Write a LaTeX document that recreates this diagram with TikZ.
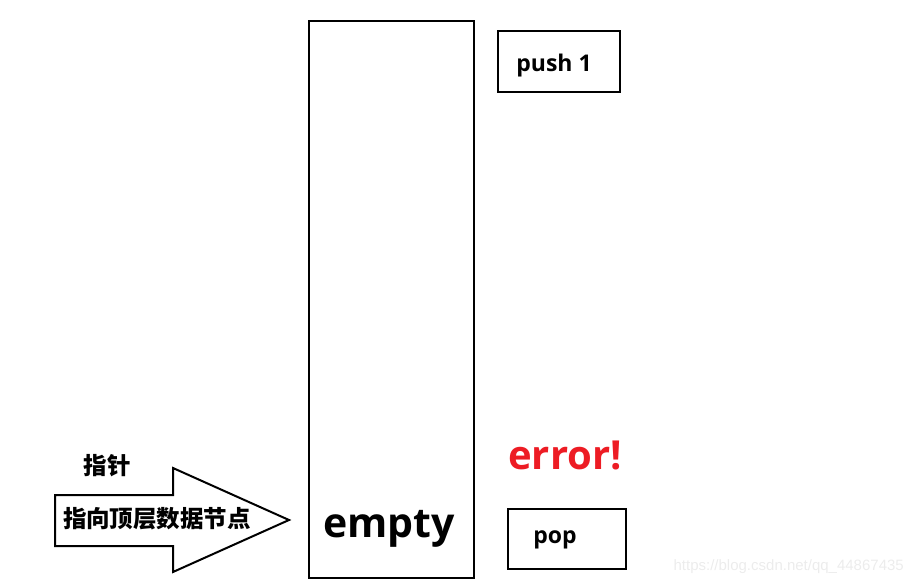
\documentclass[tikz,border=0pt]{standalone}
\usepackage{fontspec}
\setmainfont{Open Sans}
\newfontfamily\cjk{Noto Sans CJK SC}
\newfontfamily\markfont{Liberation Sans}
\usepackage{tikz}
\usetikzlibrary{positioning,calc}
\definecolor{errred}{RGB}{237,28,36}
\definecolor{markgray}{RGB}{236,236,236}
\tikzset{
  stackbox/.style={draw, line width=2.8pt},
  opbox/.style={draw, line width=2pt},
  ptrarrow/.style={draw, line width=2pt, line join=miter},
  optext/.style={font=\bfseries\fontsize{23}{28}\selectfont, inner sep=0pt},
  cjktext/.style={font=\cjk\bfseries\fontsize{23.5}{28}\selectfont, inner sep=0pt},
}

\begin{document}
\begin{tikzpicture}[x=1pt, y=-1pt]
    \useasboundingbox (0,0) rectangle (914,586);
    % Stack
    \draw[stackbox] (309,21) rectangle (474,578);
    \node[font=\bfseries\fontsize{41}{48}\selectfont, inner sep=0pt] (empty) at (389,529) {empty};
    % Operations
    \draw[opbox] (498,31) rectangle (620,92);
    \node[optext] (push) at (554,66) {push 1};
    \draw[opbox] (508,509) rectangle (626,569);
    \node[optext] (pop) at (555,540) {pop};
    \node[font=\bfseries\fontsize{40}{48}\selectfont, errred, inner sep=0pt] (err) at (565,455) {error!};
    % Pointer arrow
    \draw[ptrarrow] (55,495) -- (173,495) -- (173,468) -- (289,520)
      -- (173,572) -- (173,546) -- (55,546) -- cycle;
    \node[cjktext] (ptr) at (107,466) {指针};
    \node[cjktext] (ptrdesc) at (157,519) {指向顶层数据节点};
    % Watermark
    \node[markgray, font=\markfont\fontsize{15}{18}\selectfont, inner sep=0pt, anchor=east] (mark) at (904,567) {https://blog.csdn.net/qq\_44867435};
\end{tikzpicture}
\end{document}
